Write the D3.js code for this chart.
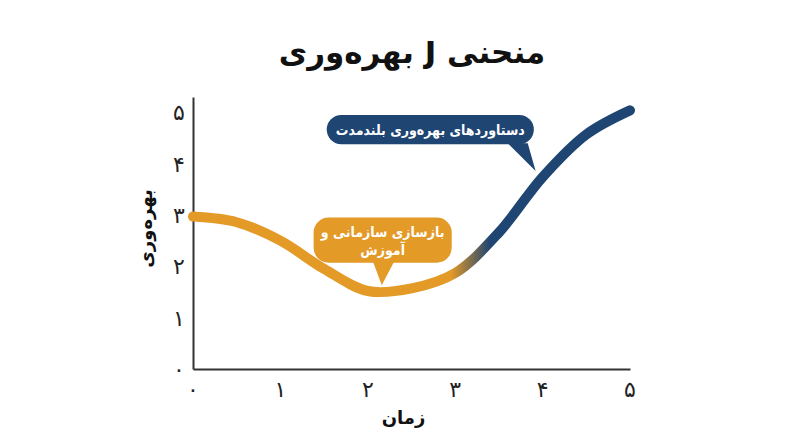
<!DOCTYPE html>
<html lang="fa">
<head>
<meta charset="utf-8">
<script src="https://cdn.jsdelivr.net/npm/d3@7"></script>
<style>
  body { margin: 0; background: #fff; }
  svg text { font-family: 'DejaVu Sans', sans-serif; }
  svg text.note { font-family: 'DejaVu Sans Condensed', 'DejaVu Sans', sans-serif; }
</style>
</head>
<body>
<div id="chart"></div>
<script>
// data
const timeValues = [0, 0.5, 1, 1.5, 2, 2.5, 3, 3.5, 4, 4.5, 5];
const productivity = [2.97, 2.86, 2.5, 1.95, 1.52, 1.57, 1.87, 2.66, 3.74, 4.57, 5.04];
const xTicks = [0, 1, 2, 3, 4, 5];
const yTicks = [0, 1, 2, 3, 4, 5];
const faDigits = ['۰', '۱', '۲', '۳', '۴', '۵', '۶', '۷', '۸', '۹'];
const titleText = 'منحنی J بهره‌وری';
const xLabel = 'زمان';
const yLabel = 'بهره‌وری';
const dipNote = ['بازسازی سازمانی و', 'آموزش'];
const gainNote = 'دستاوردهای بهره‌وری بلندمدت';

const orange = '#E39A27', navy = '#1F4572';
const W = 800, H = 447;
const margin = { top: 97, right: 170, bottom: 78, left: 193 };
const width = W - margin.left - margin.right,
  height = H - margin.top - margin.bottom;

const toFa = n => String(n).split('').map(c => faDigits[+c] || c).join('');

const svg = d3.select('#chart').append('svg')
  .attr('width', W).attr('height', H);

svg.append('text')
  .attr('x', 412).attr('y', 63)
  .attr('text-anchor', 'middle')
  .attr('font-size', 31).attr('font-weight', 'bold')
  .attr('fill', '#111')
  .attr('direction', 'rtl')
  .text(titleText);

const g = svg.append('g')
  .attr('transform', 'translate(' + margin.left + ',' + margin.top + ')');

const x = d3.scaleLinear().domain([0, 5]).range([0, width]);
const y = d3.scaleLinear().domain([0, 5.3]).range([height, 0]);

// axis lines only, labels drawn by hand below
g.append('g')
  .attr('transform', 'translate(0,' + height + ')')
  .call(d3.axisBottom(x).tickValues([]).tickSizeOuter(0))
  .select('.domain').attr('stroke', '#333').attr('stroke-width', 2);
g.append('g')
  .call(d3.axisLeft(y).tickValues([]).tickSizeOuter(0))
  .select('.domain').attr('stroke', '#333').attr('stroke-width', 2);

g.selectAll('.xt').data(xTicks).enter().append('text')
  .attr('class', 'xt')
  .attr('x', d => x(d)).attr('y', height + 28)
  .attr('text-anchor', 'middle')
  .attr('font-size', 22).attr('fill', '#222')
  .text(d => toFa(d));

g.selectAll('.yt').data(yTicks).enter().append('text')
  .attr('class', 'yt')
  .attr('x', -14).attr('y', d => (d === 0 ? height : y(d)) + 8)
  .attr('text-anchor', 'middle')
  .attr('font-size', 22).attr('fill', '#222')
  .text(d => toFa(d));

g.append('text')
  .attr('x', x(2.5) - 8).attr('y', height + 55)
  .attr('text-anchor', 'middle')
  .attr('font-size', 18).attr('font-weight', 'bold').attr('fill', '#111')
  .attr('direction', 'rtl')
  .text(xLabel);

g.append('text')
  .attr('transform', 'translate(-41,' + (y(2.74)) + ') rotate(-90)')
  .attr('text-anchor', 'middle')
  .attr('font-size', 18).attr('font-weight', 'bold').attr('fill', '#111')
  .attr('direction', 'rtl')
  .text(yLabel);

// orange to navy along the time axis
const grad = svg.append('defs').append('linearGradient')
  .attr('id', 'jgrad')
  .attr('gradientUnits', 'userSpaceOnUse')
  .attr('x1', x(2.95)).attr('x2', x(3.4)).attr('y1', 0).attr('y2', 0);
grad.append('stop').attr('offset', '0%').attr('stop-color', orange);
grad.append('stop').attr('offset', '100%').attr('stop-color', navy);

const pts = timeValues.map((t, i) => ({ t: t, v: productivity[i] }));
g.append('path')
  .datum(pts)
  .attr('fill', 'none')
  .attr('stroke', 'url(#jgrad)')
  .attr('stroke-width', 10)
  .attr('stroke-linecap', 'round')
  .attr('d', d3.line()
    .curve(d3.curveCatmullRom.alpha(0.5))
    .x(d => x(d.t))
    .y(d => y(d.v)));

// callout for the dip
const dip = g.append('g');
const dx0 = x(1.38), dx1 = x(2.96), dy0 = y(2.95), dy1 = y(2.07);
dip.append('rect')
  .attr('x', dx0).attr('y', dy0)
  .attr('width', dx1 - dx0).attr('height', dy1 - dy0)
  .attr('rx', 15).attr('fill', orange);
dip.append('path')
  .attr('fill', orange)
  .attr('d', d3.line()([[x(2.06), dy1 - 1], [x(2.3), dy1 - 1], [x(2.16), y(1.63)]]));
dip.selectAll('text').data(dipNote).enter().append('text')
  .attr('class', 'note')
  .attr('x', (dx0 + dx1) / 2)
  .attr('y', (d, i) => dy0 + 19 + i * 18)
  .attr('text-anchor', 'middle')
  .attr('direction', 'rtl')
  .attr('font-size', 14).attr('font-weight', 'bold').attr('fill', '#fff')
  .text(d => d);

// callout for the long-run gains
const gain = g.append('g');
const gx0 = x(1.53), gx1 = x(3.9), gy0 = y(4.95), gy1 = y(4.38);
gain.append('rect')
  .attr('x', gx0).attr('y', gy0)
  .attr('width', gx1 - gx0).attr('height', gy1 - gy0)
  .attr('rx', (gy1 - gy0) / 2).attr('fill', navy);
gain.append('path')
  .attr('fill', navy)
  .attr('d', d3.line()([[x(3.6), gy1 - 1], [x(3.83), gy1 - 1], [x(3.92), y(3.86)]]));
gain.append('text')
  .attr('class', 'note')
  .attr('x', (gx0 + gx1) / 2).attr('y', (gy0 + gy1) / 2 + 5)
  .attr('text-anchor', 'middle')
  .attr('direction', 'rtl')
  .attr('font-size', 14).attr('font-weight', 'bold').attr('fill', '#fff')
  .text(gainNote);
</script>
</body>
</html>
